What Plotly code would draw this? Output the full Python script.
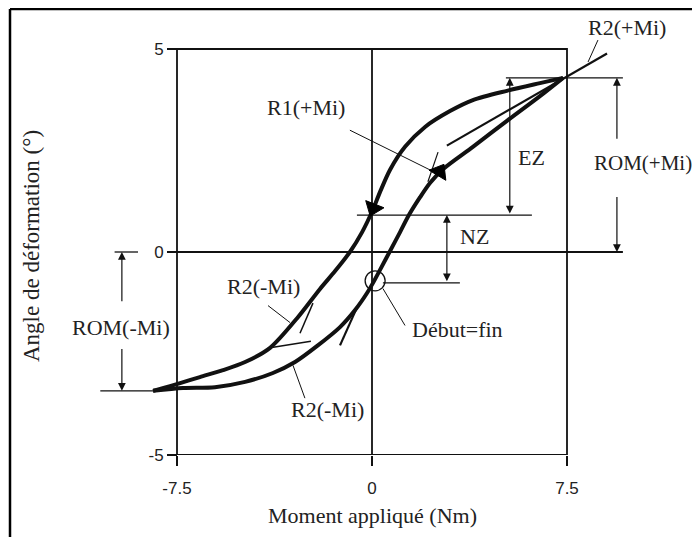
import math
import plotly.graph_objects as go

# ---------------- data ----------------
x_ticks = [-7.5, 0, 7.5]
x_tick_labels = ["-7.5", "0", "7.5"]
y_ticks = [-5, 0, 5]
y_tick_labels = ["-5", "0", "5"]

# unloading branch (upper / left), from +Mi max to -Mi max
unload_moment = [7.35, 6.46, 5.19, 3.88, 3.00, 2.04, 1.27, 0.69, 0.31, 0.00, -0.38,
                 -0.85, -1.42, -2.00, -2.88, -3.92, -4.88, -5.73, -6.62, -7.38, -8.42]
unload_angle = [4.29, 4.16, 3.97, 3.74, 3.47, 3.08, 2.59, 2.02, 1.48, 0.99, 0.49,
                0.00, -0.47, -0.91, -1.63, -2.36, -2.71, -2.91, -3.08, -3.23, -3.42]

# loading branch (lower / right), from -Mi max back to +Mi max
load_moment = [-8.42, -7.27, -6.04, -4.88, -3.81, -2.96, -2.12, -1.23, -0.65, -0.19,
               0.04, 0.35, 0.69, 1.08, 1.42, 1.85, 2.23, 2.73, 3.88, 5.19, 6.46, 7.35]
load_angle = [-3.42, -3.35, -3.33, -3.20, -2.98, -2.71, -2.32, -1.85, -1.43, -1.01,
              -0.76, -0.39, 0.02, 0.49, 0.91, 1.35, 1.70, 2.04, 2.59, 3.23, 3.84, 4.29]

# tangent (stiffness) lines
r2_pos_moment = [2.88, 9.04]
r2_pos_angle = [2.62, 4.89]
r1_pos_moment = [2.15, 2.54]
r1_pos_angle = [1.73, 2.46]
r2_neg_a_moment = [-3.92, -2.35]
r2_neg_a_angle = [-2.36, -2.2]
r2_neg_b_moment = [-2.77, -2.27]
r2_neg_b_angle = [-2.0, -1.26]
r1_neg_moment = [-1.23, -0.58]
r1_neg_angle = [-2.3, -1.37]

# characteristic levels
rom_pos_level = 4.29
nz_level = 0.91
start_level = -0.76
rom_neg_level = -3.42
start_point = (0.12, -0.71)

FONT_SERIF = "Liberation Serif, Times New Roman, serif"
FONT_SANS = "Liberation Sans, Arial, sans-serif"
INK = "#111111"
TXT = "#222222"

# ---------------- page geometry (page body has an 8px margin) ----------------
OFF = 8
W, H = 700 - OFF, 537 - OFF
PX_PER_X = 26.0
PX_PER_Y = 40.6
X0_PX = 372.0 - OFF
B_MARGIN = 82
plot_h = H - B_MARGIN
x_range = [-X0_PX / PX_PER_X, (W - X0_PX) / PX_PER_X]
y_range = [min(y_ticks), min(y_ticks) + plot_h / PX_PER_Y]
yaxis_pos = (min(x_ticks) - x_range[0]) / (x_range[1] - x_range[0])

fig = go.Figure()


def line(xs, ys, width, color=INK, shape="linear"):
    fig.add_trace(go.Scatter(x=xs, y=ys, mode="lines", hoverinfo="skip",
                             line=dict(color=color, width=width, shape=shape,
                                       smoothing=0.8 if shape == "spline" else None),
                             showlegend=False))


# frame box and zero lines
xmin, xmax = min(x_ticks), max(x_ticks)
ymin, ymax = min(y_ticks), max(y_ticks)
line([xmin, xmax, xmax, xmin, xmin], [ymin, ymin, ymax, ymax, ymin], 1.8)
line([0, 0], [ymin, ymax], 1.8)
line([xmin, 9.65], [0, 0], 1.8)

# reference level lines
line([5.15, 9.65], [rom_pos_level, rom_pos_level], 1.3)
line([-0.58, 6.15], [nz_level, nz_level], 1.3)
line([0.42, 3.38], [start_level, start_level], 1.3)
line([-10.45, -8.42], [rom_neg_level, rom_neg_level], 1.3)
line([-9.9, -9.0], [0, 0], 1.3)

# hysteresis curves
line(unload_moment, unload_angle, 4, shape="spline")
line(load_moment, load_angle, 4, shape="spline")

# tangent lines
line(r2_pos_moment, r2_pos_angle, 2.2)
line(r1_pos_moment, r1_pos_angle, 1.2)
line(r2_neg_a_moment, r2_neg_a_angle, 1.5)
line(r2_neg_b_moment, r2_neg_b_angle, 1.5)
line(r1_neg_moment, r1_neg_angle, 2.2)

# leader lines
line([-0.85, 2.3], [3.0, 2.0], 1)
line([8.31, 8.69], [4.68, 5.22], 1)
line([-4.0, -3.15], [-1.32, -1.74], 1)
line([-3.04, -2.58], [-2.79, -3.6], 1)
line([0.42, 1.27], [-0.9, -1.81], 1)

# direction arrows on the curves: (from point, arrow point)
for (fx, fy), (tx, ty) in [((0.38, 1.62), (0.05, 1.08)), ((2.3, 1.66), (2.6, 1.98))]:
    dxp = (tx - fx) * PX_PER_X
    dyp = (ty - fy) * PX_PER_Y
    ang = math.degrees(math.atan2(dxp, dyp))
    fig.add_trace(go.Scatter(x=[tx], y=[ty], mode="markers", hoverinfo="skip",
                             marker=dict(symbol="triangle-up", size=17, color="black",
                                         angle=ang, line=dict(width=1, color="black")),
                             showlegend=False))

# start = end circle
fig.add_trace(go.Scatter(x=[start_point[0]], y=[start_point[1]], mode="markers",
                         hoverinfo="skip", showlegend=False,
                         marker=dict(symbol="circle-open", size=20,
                                     line=dict(color=INK, width=1.3), color=INK)))

# dimension arrows
arrows = [
    (5.3, rom_pos_level, 5.3, nz_level, "end+start"),
    (2.88, nz_level, 2.88, start_level, "end+start"),
    (9.42, rom_pos_level, 9.42, 2.75, "end"),
    (9.42, 0, 9.42, 1.39, "end"),
    (-9.62, 0, -9.62, -1.25, "end"),
    (-9.62, rom_neg_level, -9.62, -2.35, "end"),
]
annotations = []
for x, y, ax, ay, side in arrows:
    annotations.append(dict(x=x, y=y, ax=ax, ay=ay, xref="x", yref="y", axref="x", ayref="y",
                            text="", showarrow=True, arrowhead=2, arrowsize=1.3,
                            arrowwidth=1.2, arrowcolor=INK, arrowside=side,
                            standoff=0, startstandoff=0))

labels = [
    ("R2(+Mi)", 9.81, 5.52, 22),
    ("R1(+Mi)", -2.54, 3.57, 22),
    ("EZ", 6.12, 2.34, 22),
    ("ROM(+Mi)", 10.42, 2.19, 21),
    ("NZ", 3.96, 0.37, 22),
    ("ROM(-Mi)", -9.65, -1.85, 22),
    ("R2(-Mi)", -4.19, -0.86, 22),
    ("R2(-Mi)", -1.73, -3.89, 22),
    ("Début=fin", 3.27, -1.92, 22),
]
for txt, x, y, sz in labels:
    annotations.append(dict(x=x, y=y, xref="x", yref="y", text=txt, showarrow=False,
                            xanchor="center", yanchor="middle",
                            font=dict(family=FONT_SERIF, size=sz, color=TXT)))

annotations.append(dict(x=(372 - OFF) / W, y=-((515 - OFF) - plot_h) / plot_h,
                        xref="paper", yref="paper", xanchor="center", yanchor="middle",
                        text="Moment appliqué (Nm)", showarrow=False,
                        font=dict(family=FONT_SERIF, size=22, color=TXT)))
annotations.append(dict(x=(31 - OFF) / W, y=1 - (246 - OFF) / plot_h,
                        xref="paper", yref="paper", xanchor="center", yanchor="middle",
                        text="Angle de déformation (°)", showarrow=False, textangle=-90,
                        font=dict(family=FONT_SERIF, size=23, color=TXT)))

# outer scan frame (left and top edges)
fx = (10 - OFF) / W
fy = 1 - 1 / plot_h
shapes = [
    dict(type="line", xref="paper", yref="paper", x0=fx, x1=fx,
         y0=fy, y1=-(H - plot_h + 5) / plot_h, line=dict(color="black", width=2.5)),
    dict(type="line", xref="paper", yref="paper", x0=fx, x1=1.01,
         y0=fy, y1=fy, line=dict(color="black", width=2.5)),
]

fig.update_layout(
    width=W, height=H,
    margin=dict(l=0, r=0, t=0, b=B_MARGIN, pad=0),
    paper_bgcolor="white", plot_bgcolor="white",
    showlegend=False,
    annotations=annotations,
    shapes=shapes,
    xaxis=dict(range=x_range, tickvals=x_ticks, ticktext=x_tick_labels,
               ticks="outside", ticklen=10, tickwidth=1.5, tickcolor=INK,
               ticklabelstandoff=8,
               showgrid=False, zeroline=False, showline=False, automargin=False,
               tickfont=dict(family=FONT_SANS, size=17, color=TXT), fixedrange=True),
    yaxis=dict(range=y_range, tickvals=y_ticks, ticktext=y_tick_labels,
               anchor="free", position=yaxis_pos,
               ticks="outside", ticklen=10, tickwidth=1.5, tickcolor=INK,
               showgrid=False, zeroline=False, showline=False, automargin=False,
               tickfont=dict(family=FONT_SANS, size=17, color=TXT), fixedrange=True),
)

fig.write_html("out.html")
